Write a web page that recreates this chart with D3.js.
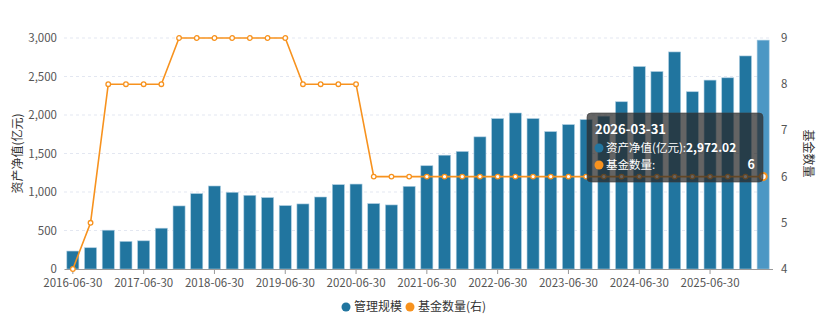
<!DOCTYPE html>
<html lang="zh">
<meta charset="utf-8">
<style>
body { margin: 0; background: #fff; }
svg text { font-family: "Noto Sans CJK SC", "Noto Sans", sans-serif; }
</style>
<body>
<script src="https://d3js.org/d3.v7.min.js"></script>
<script>
// quarterly dates, 2016-06-30 .. 2026-03-31
var dates = [
  "2016-06-30","2016-09-30","2016-12-31","2017-03-31",
  "2017-06-30","2017-09-30","2017-12-31","2018-03-31",
  "2018-06-30","2018-09-30","2018-12-31","2019-03-31",
  "2019-06-30","2019-09-30","2019-12-31","2020-03-31",
  "2020-06-30","2020-09-30","2020-12-31","2021-03-31",
  "2021-06-30","2021-09-30","2021-12-31","2022-03-31",
  "2022-06-30","2022-09-30","2022-12-31","2023-03-31",
  "2023-06-30","2023-09-30","2023-12-31","2024-03-31",
  "2024-06-30","2024-09-30","2024-12-31","2025-03-31",
  "2025-06-30","2025-09-30","2025-12-31","2026-03-31"
];
// 管理规模 (亿元)
var scale = [
  233, 276, 504, 358, 366, 530, 819, 979, 1078, 996,
  957, 927, 823, 845, 935, 1095, 1103, 849, 832, 1073,
  1341, 1478, 1526, 1716, 1953, 2026, 1953, 1784, 1875, 1940,
  1985, 2172, 2629, 2564, 2819, 2302, 2453, 2483, 2767, 2972.02
];
// 基金数量
var fundCount = [
  4, 5, 8, 8, 8, 8, 9, 9, 9, 9,
  9, 9, 9, 8, 8, 8, 8, 6, 6, 6,
  6, 6, 6, 6, 6, 6, 6, 6, 6, 6,
  6, 6, 6, 6, 6, 6, 6, 6, 6, 6
];
var leftTicks = [0, 500, 1000, 1500, 2000, 2500, 3000];
var rightTicks = [4, 5, 6, 7, 8, 9];
var hoverIndex = 39;

var w = 831, h = 321;
var margin = {left: 64, right: 59, top: 38, bottom: 52};
var iw = w - margin.left - margin.right;
var ih = h - margin.top - margin.bottom;

var blue = "#21759f", blueHi = "#4c97c4", orange = "#f7921e";

var svg = d3.select("body").append("svg")
  .attr("width", w).attr("height", h);
var g = svg.append("g").attr("transform", "translate(" + margin.left + "," + margin.top + ")");

var x = d3.scaleBand().domain(dates).range([0, iw]).paddingInner(0.32).paddingOuter(0.16);
var xc = function(d) { return x(d) + x.bandwidth() / 2; };
var y = d3.scaleLinear().domain([0, 3000]).range([ih, 0]);
var y2 = d3.scaleLinear().domain([4, 9]).range([ih, 0]);

// grid
g.selectAll("line.grid").data(leftTicks.slice(1)).enter().append("line")
  .attr("x1", 0).attr("x2", iw)
  .attr("y1", function(d) { return y(d); }).attr("y2", function(d) { return y(d); })
  .attr("stroke", "#e3e7f1").attr("stroke-dasharray", "3,3");

// left axis labels
g.selectAll("text.yl").data(leftTicks).enter().append("text")
  .attr("x", -7).attr("y", function(d) { return y(d); })
  .attr("dy", "0.35em").attr("text-anchor", "end")
  .attr("font-size", 11.5).attr("fill", "#555")
  .text(d3.format(","));

// right axis labels
g.selectAll("text.yr").data(rightTicks).enter().append("text")
  .attr("x", iw + 9).attr("y", function(d) { return y2(d); })
  .attr("dy", "0.35em").attr("text-anchor", "start")
  .attr("font-size", 11.5).attr("fill", "#555")
  .text(function(d) { return d; });

// axis titles
svg.append("text")
  .attr("transform", "translate(22," + (margin.top + ih / 2) + ") rotate(-90)")
  .attr("text-anchor", "middle").attr("font-size", 12).attr("fill", "#333")
  .text("资产净值(亿元)");
svg.append("text")
  .attr("transform", "translate(804," + (margin.top + ih / 2) + ") rotate(90)")
  .attr("text-anchor", "middle").attr("font-size", 12).attr("fill", "#333")
  .text("基金数量");

// bars
g.selectAll("rect.bar").data(dates).enter().append("rect")
  .attr("x", function(d) { return x(d); })
  .attr("y", function(d, i) { return y(scale[i]); })
  .attr("width", x.bandwidth())
  .attr("height", function(d, i) { return ih - y(scale[i]); })
  .attr("fill", function(d, i) { return i === hoverIndex ? blueHi : blue; })
  .attr("stroke", function(d, i) { return i === hoverIndex ? "#9cc6de" : "#a9cbe0"; })
  .attr("stroke-width", 0.6);

// x axis
var xAxis = d3.axisBottom(x)
  .tickValues(dates.filter(function(d, i) { return i % 4 === 0; }))
  .tickSize(5).tickSizeOuter(0);
var ax = g.append("g").attr("transform", "translate(0," + ih + ")").call(xAxis);
ax.select(".domain").attr("stroke", "#999").attr("d", "M0.5,0.5H" + (iw + 1));
ax.selectAll(".tick line").attr("stroke", "#999");
ax.selectAll(".tick text").attr("font-size", 11.5).attr("fill", "#555")
  .attr("font-family", "\"Noto Sans CJK SC\", sans-serif").attr("dy", "0.9em");

// line
var line = d3.line()
  .x(function(d, i) { return xc(dates[i]); })
  .y(function(d) { return y2(d); });
g.append("path").datum(fundCount)
  .attr("d", line).attr("fill", "none")
  .attr("stroke", orange).attr("stroke-width", 1.6);
g.selectAll("circle.pt").data(fundCount).enter().append("circle")
  .attr("cx", function(d, i) { return xc(dates[i]); })
  .attr("cy", function(d) { return y2(d); })
  .attr("r", function(d, i) { return i === hoverIndex ? 3.6 : 2.3; })
  .attr("fill", "#fff").attr("stroke", orange)
  .attr("stroke-width", function(d, i) { return i === hoverIndex ? 2 : 1.3; });

// legend
var legend = svg.append("g").attr("transform", "translate(0,307)");
var items = [{name: "管理规模", color: blue, x: 346}, {name: "基金数量(右)", color: orange, x: 410}];
items.forEach(function(it) {
  legend.append("circle").attr("cx", it.x).attr("cy", 0).attr("r", 4.5).attr("fill", it.color);
  legend.append("text").attr("x", it.x + 8).attr("y", 0).attr("dy", "0.35em")
    .attr("font-size", 12).attr("fill", "#333").text(it.name);
});

// tooltip for the hovered quarter
var tip = svg.append("g").attr("transform", "translate(587,113)");
tip.append("rect").attr("width", 176).attr("height", 69).attr("rx", 4)
  .attr("fill", "rgba(40,40,40,0.72)").attr("stroke", "rgba(60,60,60,0.6)");
tip.append("text").attr("x", 8).attr("y", 21).attr("font-size", 13)
  .attr("font-weight", "bold").attr("fill", "#fff").text(dates[hoverIndex]);
tip.append("circle").attr("cx", 12).attr("cy", 35).attr("r", 4.5).attr("fill", blue);
var lab = tip.append("text").attr("x", 19).attr("y", 35).attr("dy", "0.35em").attr("font-size", 11.5)
  .attr("fill", "#fff");
lab.append("tspan").text("资产净值(亿元):");
lab.append("tspan").attr("font-weight", "bold").attr("font-size", 12)
  .text(d3.format(",.2f")(scale[hoverIndex]));
tip.append("circle").attr("cx", 12).attr("cy", 52).attr("r", 4.5).attr("fill", orange);
tip.append("text").attr("x", 19).attr("y", 52).attr("dy", "0.35em").attr("font-size", 11.5)
  .attr("fill", "#fff").text("基金数量:");
tip.append("text").attr("x", 168).attr("y", 52).attr("dy", "0.35em").attr("font-size", 12.5)
  .attr("font-weight", "bold").attr("text-anchor", "end").attr("fill", "#fff")
  .text(fundCount[hoverIndex]);
</script>
</body>
</html>
